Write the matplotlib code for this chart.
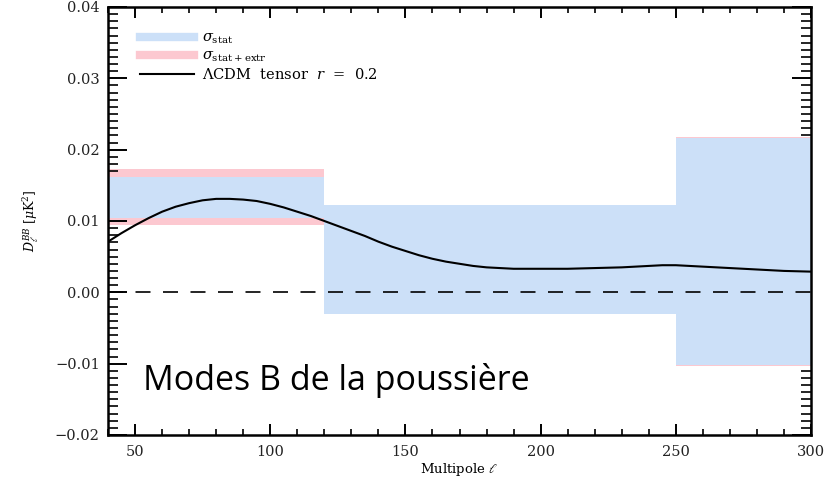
import numpy as np
import matplotlib
matplotlib.use('Agg')
import matplotlib.pyplot as plt
from matplotlib.lines import Line2D
from matplotlib.ticker import MultipleLocator

# bins: edges, stat band, stat+extr band
bin_lo = [40, 120, 250]
bin_hi = [120, 250, 300]
stat_lo = [0.0104, -0.0030, -0.0102]
stat_hi = [0.0161, 0.0122, 0.0216]
tot_lo = [0.0094, -0.0031, -0.0103]
tot_hi = [0.0173, 0.0123, 0.0218]

# LCDM tensor r=0.2 curve
ell = [40, 45, 50, 55, 60, 65, 70, 75, 80, 85, 90, 95, 100, 105, 110, 115,
       120, 125, 130, 135, 140, 145, 150, 155, 160, 165, 170, 175, 180, 185,
       190, 195, 200, 210, 220, 230, 240, 245, 250, 260, 270, 280, 290, 300]
dl_bb = [0.0071, 0.0083, 0.0094, 0.0104, 0.0113, 0.0120, 0.0125, 0.0129,
         0.0131, 0.0131, 0.0130, 0.0128, 0.0124, 0.0119, 0.0113, 0.0107,
         0.0100, 0.0093, 0.0086, 0.0079, 0.0071, 0.0064, 0.0058, 0.0052,
         0.0047, 0.0043, 0.0040, 0.0037, 0.0035, 0.0034, 0.0033, 0.0033,
         0.0033, 0.0033, 0.0034, 0.0035, 0.0037, 0.0038, 0.0038, 0.0036,
         0.0034, 0.0032, 0.0030, 0.0029]

blue = '#cce0f8'
pink = '#fcc8d0'
serif = 'DejaVu Serif'

plt.rcParams['mathtext.fontset'] = 'dejavuserif'

fig = plt.figure(figsize=(8.32, 4.79), dpi=100)
ax = fig.add_axes([0.1298, 0.0919, 0.8450, 0.8935])

for lo, hi, a, b in zip(bin_lo, bin_hi, tot_lo, tot_hi):
    ax.fill_between([lo, hi], a, b, color=pink, lw=0, zorder=1)
for lo, hi, a, b in zip(bin_lo, bin_hi, stat_lo, stat_hi):
    ax.fill_between([lo, hi], a, b, color=blue, lw=0, zorder=2)

ax.axhline(0, color='black', lw=1.2, dashes=(9, 7.5), zorder=3)
ax.plot(ell, dl_bb, color='black', lw=1.5, zorder=4)

ax.set_xlim(40, 300)
ax.set_ylim(-0.02, 0.04)
ax.xaxis.set_major_locator(MultipleLocator(50))
ax.xaxis.set_minor_locator(MultipleLocator(10))
ax.yaxis.set_major_locator(MultipleLocator(0.01))
ax.yaxis.set_minor_locator(MultipleLocator(0.001))
ax.yaxis.set_major_formatter(plt.FuncFormatter(
    lambda v, p: ('\u2212' if v < -1e-9 else '') + '%.2f' % abs(v)))

for s in ax.spines.values():
    s.set_linewidth(1.8)
ax.tick_params(axis='x', which='major', direction='in', length=8, width=1.4,
               top=True, pad=7)
ax.tick_params(axis='x', which='minor', direction='in', length=4, width=1.2,
               top=True)
ax.tick_params(axis='y', which='major', direction='in', length=14, width=1.4,
               right=True, pad=6)
ax.tick_params(axis='y', which='minor', direction='in', length=7, width=1.2,
               right=True)
for lab in ax.get_xticklabels() + ax.get_yticklabels():
    lab.set_family(serif)
    lab.set_fontsize(10.5)
    lab.set_color('#222222')

ax.set_xlabel(r'Multipole $\ell$', family=serif, fontsize=9.5, labelpad=2)
ax.set_ylabel(r'$D_\ell^{BB}$ [$\mu$K$^2$]', family=serif, fontsize=9,
              labelpad=10)

handles = [Line2D([], [], color=blue, lw=6),
           Line2D([], [], color=pink, lw=6),
           Line2D([], [], color='black', lw=1.5)]
labels = [r'$\sigma_{\rm stat}$', r'$\sigma_{\rm stat+extr}$',
          r'$\Lambda$CDM  tensor  $r$  =  0.2']
leg = ax.legend(handles, labels, loc='upper left', frameon=False,
                prop={'family': serif, 'size': 10.5}, handlelength=3.7,
                handletextpad=0.55, labelspacing=0.18,
                bbox_to_anchor=(0.027, 0.975))

ax.text(0.05, 0.105, 'Modes B de la poussière', transform=ax.transAxes,
        family='Open Sans', fontsize=24.5, va='baseline', ha='left')

fig.savefig('out.png', dpi=100)
